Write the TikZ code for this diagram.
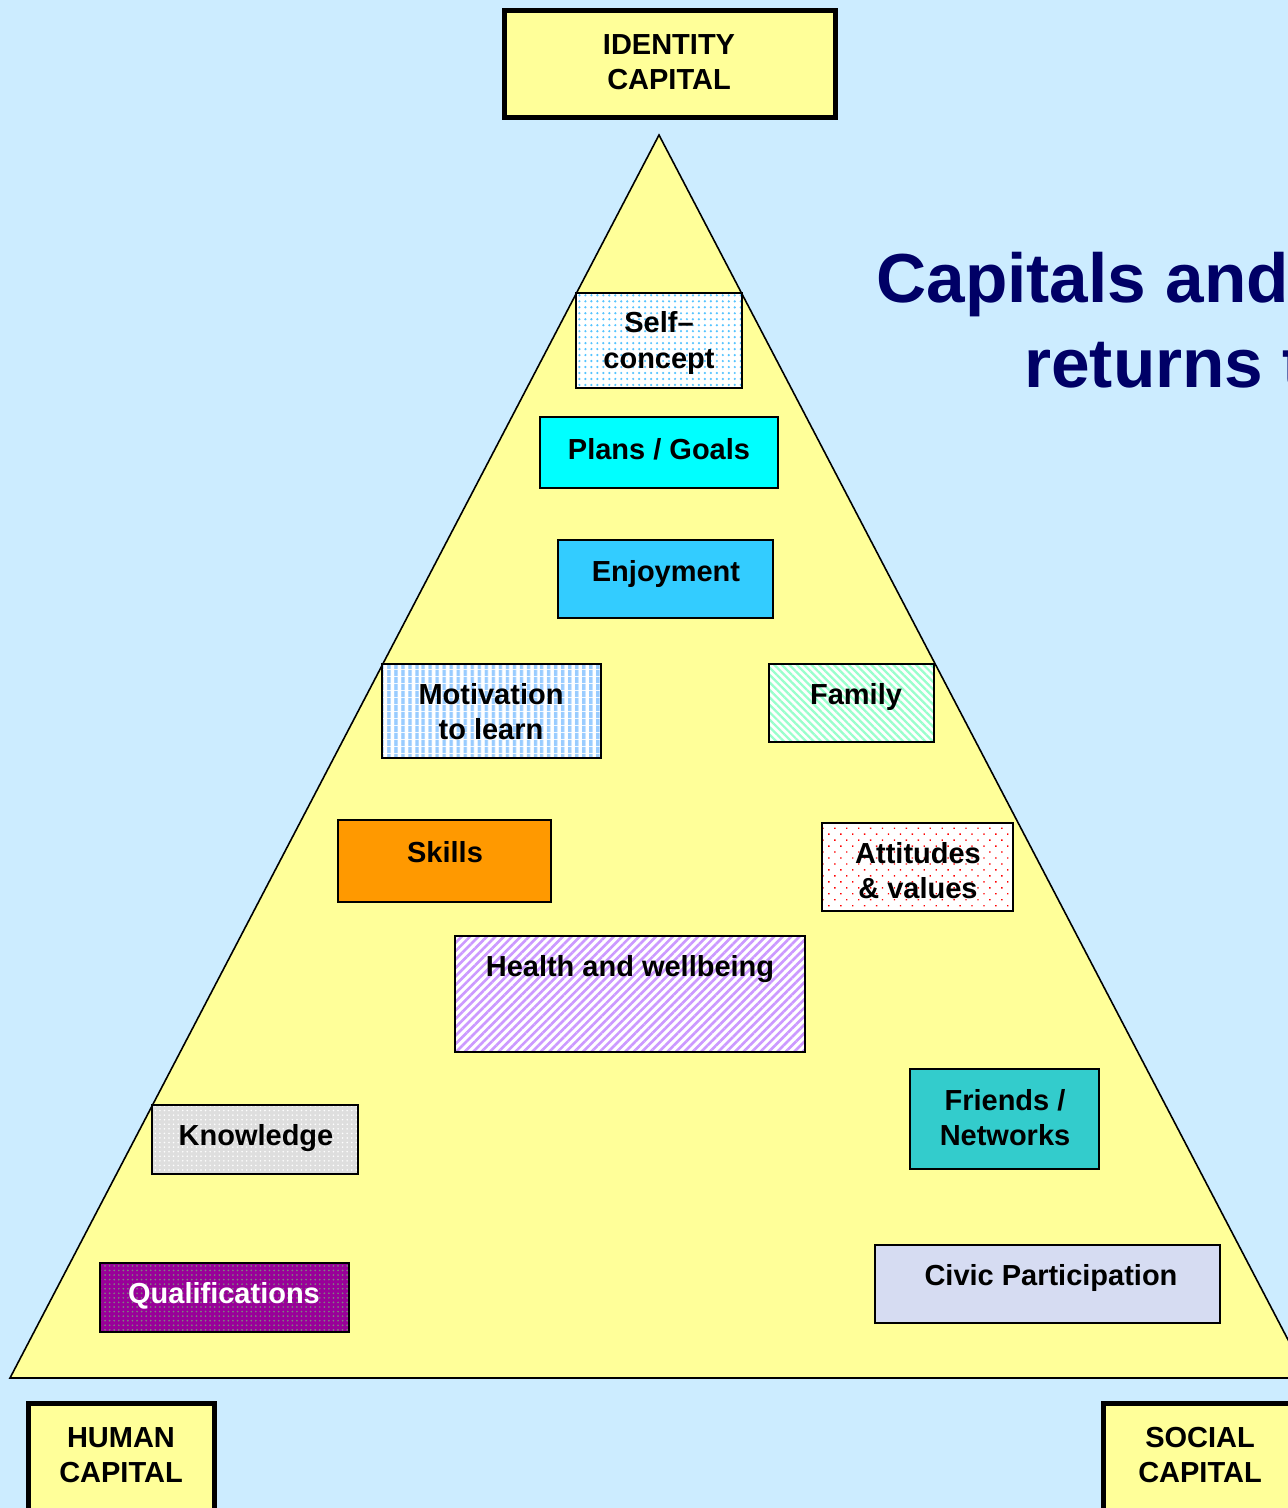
\documentclass[tikz,border=0pt]{standalone}
\usepackage{fontspec}
\setmainfont{Liberation Sans}
\usepackage{tikz}
\usetikzlibrary{positioning,patterns.meta}

\definecolor{skyback}{HTML}{CCECFF}
\definecolor{paleyellow}{HTML}{FFFF99}
\definecolor{titleblue}{HTML}{000066}
\definecolor{dotblue}{HTML}{55C4FF}
\definecolor{stripeblue}{HTML}{99CCFF}
\definecolor{stripegreen}{HTML}{99FFCC}
\definecolor{stripelilac}{HTML}{CC99FF}
\definecolor{plancyan}{HTML}{00FFFF}
\definecolor{enjoyblue}{HTML}{33CCFF}
\definecolor{skillorange}{HTML}{FF9900}
\definecolor{friendteal}{HTML}{33CCCC}
\definecolor{qualpurple}{HTML}{990099}
\definecolor{knowgrey}{HTML}{DEDEDE}
\definecolor{civiclav}{HTML}{D6DCF2}

\begin{document}
\begin{tikzpicture}[x=0.02cm,y=-0.02cm]
            \tikzstyle{box}=[draw=black,line width=1.1pt]
            \tikzstyle{capbox}=[draw=black,line width=2.8pt,fill=paleyellow]
            \tikzstyle{lbl}=[font=\fontsize{16.5pt}{20pt}\selectfont\bfseries,align=center,inner sep=0pt]
            \tikzstyle{ttl}=[anchor=base west,inner sep=0pt,text=titleblue,font=\fontsize{39.5pt}{48pt}\selectfont\bfseries]
            \tikzstyle{patfill}=[preaction={fill=#1}]

            \useasboundingbox (0,0) rectangle (1288,1508);
            \clip (0,0) rectangle (1288,1508);
            \fill[skyback] (0,0) rectangle (1288,1508);

            % pyramid
            \draw[fill=paleyellow,line width=0.9pt] (659,135) -- (10,1378) -- (1308,1378) -- cycle;

            % corner capitals
            \draw[capbox] (504.5,10.5) rectangle (835.5,117.5);
            \node[lbl] (identity) at (669,62) {IDENTITY\\CAPITAL};
            \draw[capbox] (28.5,1403.5) rectangle (214.5,1530);
            \node[lbl] (human) at (121,1455) {HUMAN\\CAPITAL};
            \draw[capbox] (1103.5,1403.5) rectangle (1320,1530);
            \node[lbl] (social) at (1200,1455) {SOCIAL\\CAPITAL};

            % title
            \node[ttl] (title1) at (876,302) {Capitals and};
            \node[ttl] (title2) at (1024,387) {returns t};

            % identity side
            \draw[box,patfill=white,pattern={Dots[distance=3.4pt,radius=0.7pt]},pattern color=dotblue] (576,293) rectangle (742,388);
            \node[lbl] (self) at (659,343) {Self–\\concept};
            \draw[box,fill=plancyan] (540,417) rectangle (778,488);
            \node[lbl] (plans) at (659,449) {Plans / Goals};
            \draw[box,fill=enjoyblue] (558,540) rectangle (773,618);
            \node[lbl] (enjoy) at (666,574) {Enjoyment};

            % human side
            \draw[box,patfill=white,pattern={Lines[angle=90,distance=4pt,line width=2.2pt]},pattern color=stripeblue] (382,664) rectangle (601,758);
            \node[lbl] (motiv) at (491,712) {Motivation\\to learn};
            \draw[box,fill=skillorange] (338,820) rectangle (551,902);
            \node[lbl] (skills) at (445,852) {Skills};
            \draw[box,patfill=white,pattern={Lines[angle=45,distance=3.4pt,line width=1.5pt]},pattern color=stripelilac] (455,936) rectangle (805,1052);
            \node[lbl] (health) at (630,969) {Health and wellbeing};
            \draw[box,patfill=knowgrey,pattern={Dots[distance=2.6pt,radius=0.5pt]},pattern color=white] (152,1105) rectangle (358,1174);
            \node[lbl] (know) at (256,1138) {Knowledge};
            \draw[box,patfill=qualpurple,pattern={Dots[distance=2.6pt,radius=0.55pt]},pattern color=gray] (100,1263) rectangle (349,1332);
            \node[lbl,text=white] (qual) at (224,1296) {Qualifications};

            % social side
            \draw[box,patfill=white,pattern={Lines[angle=-45,distance=3pt,line width=1.3pt]},pattern color=stripegreen] (769,664) rectangle (934,742);
            \node[lbl] (family) at (856,697) {Family};
            \draw[box,patfill=white,pattern={Dots[distance=4.8pt,radius=0.55pt,angle=45]},pattern color=red] (822,823) rectangle (1013,911);
            \node[lbl] (attit) at (918,871) {Attitudes\\\& values};
            \draw[box,fill=friendteal] (910,1069) rectangle (1099,1169);
            \node[lbl] (friends) at (1005,1118) {Friends /\\Networks};
            \draw[box,fill=civiclav] (875,1245) rectangle (1220,1323);
            \node[lbl] (civic) at (1051,1278) {Civic Participation};
        \end{tikzpicture}
\end{document}
